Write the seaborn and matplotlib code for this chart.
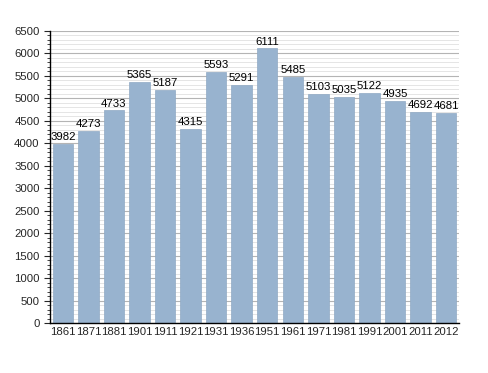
import matplotlib
matplotlib.use("Agg")
import matplotlib.pyplot as plt
import seaborn as sns
import pandas as pd
from matplotlib.ticker import MultipleLocator

years = ["1861", "1871", "1881", "1901", "1911", "1921", "1931", "1936", "1951",
         "1961", "1971", "1981", "1991", "2001", "2011", "2012"]
population = [3982, 4273, 4733, 5365, 5187, 4315, 5593, 5291, 6111,
              5485, 5103, 5035, 5122, 4935, 4692, 4681]

df = pd.DataFrame({"year": years, "pop": population})

sns.set_style("white")
plt.rcParams['font.family'] = ['Liberation Sans', 'DejaVu Sans']

fig = plt.figure(figsize=(4.88, 3.73), dpi=100)
ax = fig.add_axes([0.1025, 0.134, 0.838, 0.783])

ax.yaxis.set_major_locator(MultipleLocator(500))
ax.yaxis.set_minor_locator(MultipleLocator(100))
ax.grid(which="major", axis="y", color="#b4b4b4", linewidth=0.8)
ax.grid(which="minor", axis="y", color="#e0e0e0", linewidth=0.6)
ax.set_axisbelow(True)

sns.barplot(data=df, x="year", y="pop", color="#98b3cf", saturation=1,
            width=0.8, ax=ax, edgecolor="#8fa9c4", linewidth=0.5)

for i, v in enumerate(population):
    ax.text(i, v + 40, str(v), ha="center", va="bottom", fontsize=8.2, color="black")

ax.set_ylim(0, 6500)
ax.set_xlim(-0.5, len(years) - 0.5)
ax.set_xlabel("")
ax.set_ylabel("")
for s in ["top", "right"]:
    ax.spines[s].set_visible(False)
ax.spines["left"].set_color("black")
ax.spines["bottom"].set_color("black")
ax.spines["left"].set_linewidth(1.0)
ax.spines["bottom"].set_linewidth(1.0)
ax.tick_params(axis="y", which="major", length=4, width=0.8, labelsize=8.2, left=True, direction="out")
ax.tick_params(axis="y", which="minor", length=2, width=0.6, left=True, direction="out")
ax.tick_params(axis="x", length=0, labelsize=8.2, pad=3)

fig.savefig("out.png", dpi=100)
